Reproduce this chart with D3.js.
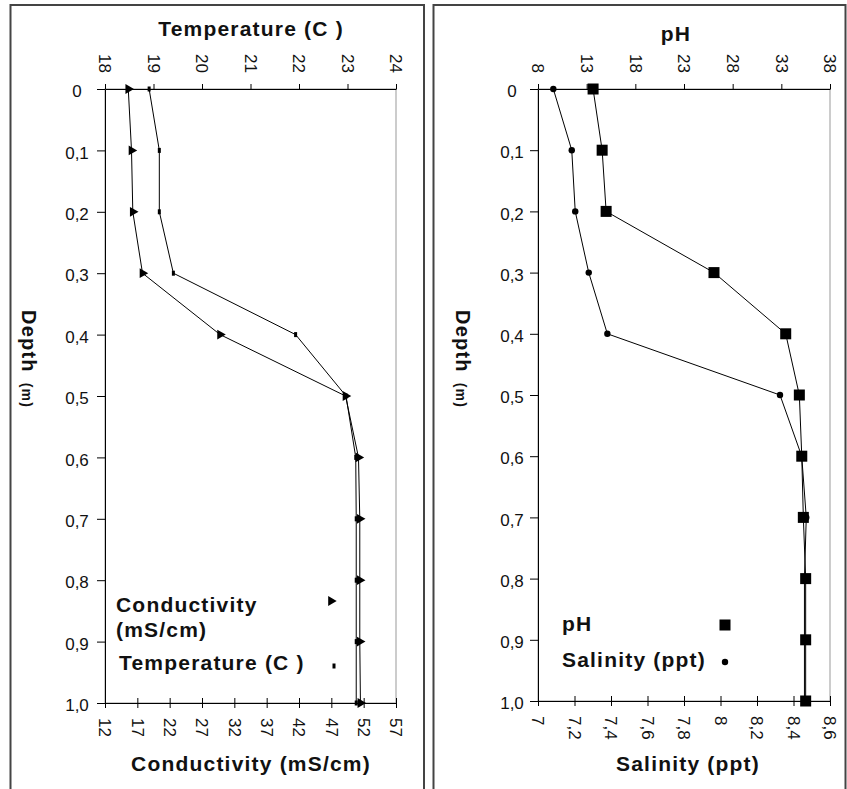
<!DOCTYPE html>
<meta charset="utf-8">
<script src="https://d3js.org/d3.v7.min.js"></script>
<style>
body { margin: 0; background: #fff; }
svg text { font-family: "Liberation Sans", Arial, sans-serif; fill: #111; }
.tick text { font-size: 17px; }
.ttl { font-weight: bold; font-size: 21px; letter-spacing: 1.2px; }
.frame { fill: none; stroke: #444; stroke-width: 2; }
.plot { fill: #fff; stroke: #999; stroke-width: 1; }
.series { fill: none; stroke: #000; stroke-width: 1; }
</style>
<body>
<svg id="svg" width="847" height="789"></svg>
<script>
// depth in metres and its labels (comma decimals, as in the original)
var depth = [0, 0.1, 0.2, 0.3, 0.4, 0.5, 0.6, 0.7, 0.8, 0.9, 1.0];
var depthLabels = ["0", "0,1", "0,2", "0,3", "0,4", "0,5", "0,6", "0,7", "0,8", "0,9", "1,0"];

var temperature  = [18.91, 19.12, 19.12, 19.41, 21.93, 22.97, 23.17, 23.18, 23.18, 23.18, 23.18];
var conductivity = [15.6, 16.1, 16.3, 17.8, 29.8, 49.2, 51.2, 51.4, 51.4, 51.4, 51.5];
var ph           = [13.66, 14.59, 15.0, 26.08, 33.45, 34.85, 35.1, 35.26, 35.5, 35.5, 35.5];
var salinity     = [7.084, 7.185, 7.204, 7.278, 7.38, 8.326, 8.445, 8.47, 8.46, 8.46, 8.46];

var tempTicks = [18, 19, 20, 21, 22, 23, 24];
var condTicks = [12, 17, 22, 27, 32, 37, 42, 47, 52, 57];
var phTicks   = [8, 13, 18, 23, 28, 33, 38];
var salTicks  = [7, 7.2, 7.4, 7.6, 7.8, 8, 8.2, 8.4, 8.6];

var svg = d3.select("#svg");
var comma = function(d) { return String(d).replace(".", ","); };

function marker(g, type) {
    if (type == "tri") {
        g.append("path").attr("d", d3.symbol(d3.symbolTriangle, 42)()).attr("transform", "rotate(90)").attr("fill", "#000");
    } else if (type == "dash") {
        g.append("rect").attr("x", -1.5).attr("y", -2.5).attr("width", 3).attr("height", 5).attr("fill", "#000");
    } else if (type == "square") {
        g.append("rect").attr("x", -5.5).attr("y", -5.5).attr("width", 11).attr("height", 11).attr("fill", "#000");
    } else {
        g.append("circle").attr("r", 3.2).attr("fill", "#000");
    }
}

function panel(p) {
    svg.append("rect").attr("class", "frame")
        .attr("x", p.frameX).attr("y", 5).attr("width", p.frameW).attr("height", 820);

    var x0 = p.left, x1 = p.right, yTop = 89, yBot = p.bottom;
    var y = d3.scaleLinear().domain([0, 1]).range([yTop, yBot]);
    var xTop = d3.scaleLinear().domain(d3.extent(p.topTicks)).range([x0, x1]);
    var xBot = d3.scaleLinear().domain(d3.extent(p.botTicks)).range([x0, x1]);

    svg.append("rect").attr("class", "plot")
        .attr("x", x0).attr("y", yTop).attr("width", x1 - x0).attr("height", yBot - yTop);

    // top axis
    var gt = svg.append("g").attr("transform", "translate(0," + yTop + ")")
        .call(d3.axisTop(xTop).tickValues(p.topTicks).tickSize(5).tickSizeOuter(0).tickFormat(comma));
    gt.selectAll(".tick text")
        .attr("transform", "rotate(90)").attr("x", -16).attr("y", 0).attr("dy", "0.36em")
        .style("text-anchor", "end");

    // bottom axis, ticks cross the line
    var gb = svg.append("g").attr("transform", "translate(0," + yBot + ")")
        .call(d3.axisBottom(xBot).tickValues(p.botTicks).tickSize(5).tickSizeOuter(0).tickFormat(comma));
    gb.selectAll(".tick line").attr("y1", -5).attr("y2", 5);
    gb.selectAll(".tick text")
        .attr("transform", "rotate(90)").attr("x", 15).attr("y", 0).attr("dy", "0.36em")
        .style("text-anchor", "start");

    // depth axis
    var gl = svg.append("g").attr("transform", "translate(" + x0 + ",0)")
        .call(d3.axisLeft(y).tickValues(depth).tickSize(8).tickSizeOuter(0)
            .tickFormat(function(d, i) { return depthLabels[i]; }));
    gl.selectAll(".tick text").attr("x", p.labelX - x0).attr("dy", "0.45em").style("text-anchor", "middle");

    svg.selectAll(".domain").attr("stroke", "#000");
    svg.selectAll(".tick line").attr("stroke", "#000");
    svg.selectAll(".tick text").attr("font-size", null).attr("font-family", null);

    // titles
    svg.append("text").attr("class", "ttl").attr("x", p.topTitleX).attr("y", p.topTitleY)
        .attr("text-anchor", "middle").text(p.topTitle);
    svg.append("text").attr("class", "ttl").attr("x", p.botTitleX).attr("y", 771)
        .attr("text-anchor", "middle").text(p.botTitle);
    var dl = svg.append("text").attr("class", "ttl").attr("transform", "translate(" + p.depthX + ",310) rotate(90)")
        .style("font-size", "20px");
    dl.append("tspan").text("Depth");
    dl.append("tspan").attr("dx", 10).style("font-size", "14px").text("(m)");

    // series
    p.series.forEach(function(s) {
        var sx = s.axis == "top" ? xTop : xBot;
        var pts = depth.map(function(d, i) { return [sx(s.values[i]), y(d)]; });
        svg.append("path").attr("class", "series").attr("d", d3.line()(pts));
        svg.append("g").selectAll("g").data(pts).enter().append("g")
            .attr("transform", function(d) { return "translate(" + d[0] + "," + d[1] + ")"; })
            .each(function() { marker(d3.select(this), s.marker); });
    });

    // legend
    p.legend.forEach(function(l) {
        var t = svg.append("text").attr("class", "ttl").attr("x", l.x).attr("y", l.y);
        l.lines.forEach(function(s, i) {
            t.append("tspan").attr("x", l.x).attr("dy", i == 0 ? 0 : 25).text(s);
        });
        var g = svg.append("g").attr("transform", "translate(" + l.mx + "," + l.my + ")");
        marker(g, l.marker);
    });
}

panel({
    frameX: 10.5, frameW: 413.5, left: 105, right: 396, bottom: 703, labelX: 77, depthX: 22,
    topTicks: tempTicks, botTicks: condTicks,
    topTitle: "Temperature (C )", topTitleX: 251, topTitleY: 36,
    botTitle: "Conductivity (mS/cm)", botTitleX: 251,
    series: [
        { values: temperature, axis: "top", marker: "dash" },
        { values: conductivity, axis: "bot", marker: "tri" }
    ],
    legend: [
        { lines: ["Conductivity", "(mS/cm)"], x: 116, y: 612, mx: 331, my: 601, marker: "tri" },
        { lines: ["Temperature (C )"], x: 119, y: 670, mx: 334, my: 666, marker: "dash" }
    ]
});

panel({
    frameX: 433.5, frameW: 412, left: 538, right: 830, bottom: 701, labelX: 512, depthX: 456,
    topTicks: phTicks, botTicks: salTicks,
    topTitle: "pH", topTitleX: 676, topTitleY: 41,
    botTitle: "Salinity (ppt)", botTitleX: 688,
    series: [
        { values: salinity, axis: "bot", marker: "dot" },
        { values: ph, axis: "top", marker: "square" }
    ],
    legend: [
        { lines: ["pH"], x: 562, y: 631, mx: 725, my: 625, marker: "square" },
        { lines: ["Salinity (ppt)"], x: 562, y: 667, mx: 725, my: 662, marker: "dot" }
    ]
});
</script>
</body>
